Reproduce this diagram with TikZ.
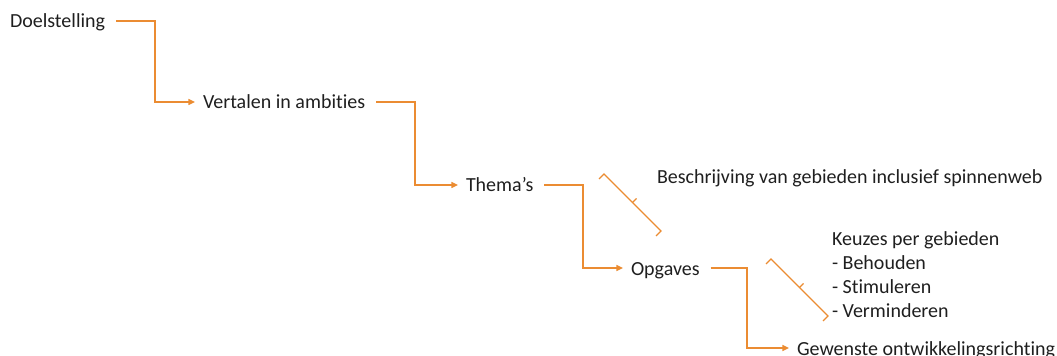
\documentclass[tikz,border=0pt]{standalone}
\usepackage{fontspec}
\setmainfont{Carlito}[Ligatures=NoCommon]
\usetikzlibrary{arrows.meta}
\definecolor{procorange}{RGB}{235,140,50}
\begin{document}
\begin{tikzpicture}[x=0.75pt,y=-0.75pt,
  lbl/.style={anchor=base west,inner sep=0pt,outer sep=0pt,font=\fontsize{15pt}{17.9pt}\selectfont,text=black!88},
  conn/.style={draw=procorange,line width=1pt,-{Triangle[length=5pt,width=4.5pt]}},
  brace/.style={draw=procorange,line width=1pt,line join=miter}]
\useasboundingbox (0,0) rectangle (1057,356);
\node[lbl] (d) at (10,28) {Doelstelling};
\node[lbl] (v) at (203,109) {Vertalen in ambities};
\node[lbl] (t) at (466,192) {Thema’s};
\node[lbl] (o) at (631,275) {Opgaves};
\node[lbl] (g) at (797,355) {Gewenste ontwikkelingsrichting};
\node[lbl] (b) at (657,184) {Beschrijving van gebieden inclusief spinnenweb};
\node[lbl,align=left,anchor=north west] (k) at (832,232) {Keuzes per gebieden\\- Behouden\\- Stimuleren\\- Verminderen};
% connector end points and elbows
\coordinate (s1) at ([shift={(11,-7)}]d.base east);
\coordinate (s2) at ([shift={(11,-7)}]v.base east);
\coordinate (s3) at ([shift={(11,-7)}]t.base east);
\coordinate (s4) at ([shift={(11,-7)}]o.base east);
\coordinate (f1) at ([shift={(-8,-7)}]v.base west);
\coordinate (f2) at ([shift={(-8,-7)}]t.base west);
\coordinate (f3) at ([shift={(-8,-7)}]o.base west);
\coordinate (f4) at ([shift={(-8,-7)}]g.base west);
\coordinate (e1) at (155,0);
\coordinate (e2) at (415,0);
\coordinate (e3) at (583,0);
\coordinate (e4) at (747,0);
\draw[conn] (s1) -- (s1 -| e1) |- (f1);
\draw[conn] (s2) -- (s2 -| e2) |- (f2);
\draw[conn] (s3) -- (s3 -| e3) |- (f3);
\draw[conn] (s4) -- (s4 -| e4) |- (f4);
% brackets
\draw[brace] (599,179) -- (604,174) -- (661,231) -- (656,236);
\draw[brace] (632.5,202.5) -- (636.5,198.5);
\draw[brace] (766,264) -- (771,259) -- (828,316) -- (823,321);
\draw[brace] (799.5,287.5) -- (803.5,283.5);
\end{tikzpicture}
\end{document}
